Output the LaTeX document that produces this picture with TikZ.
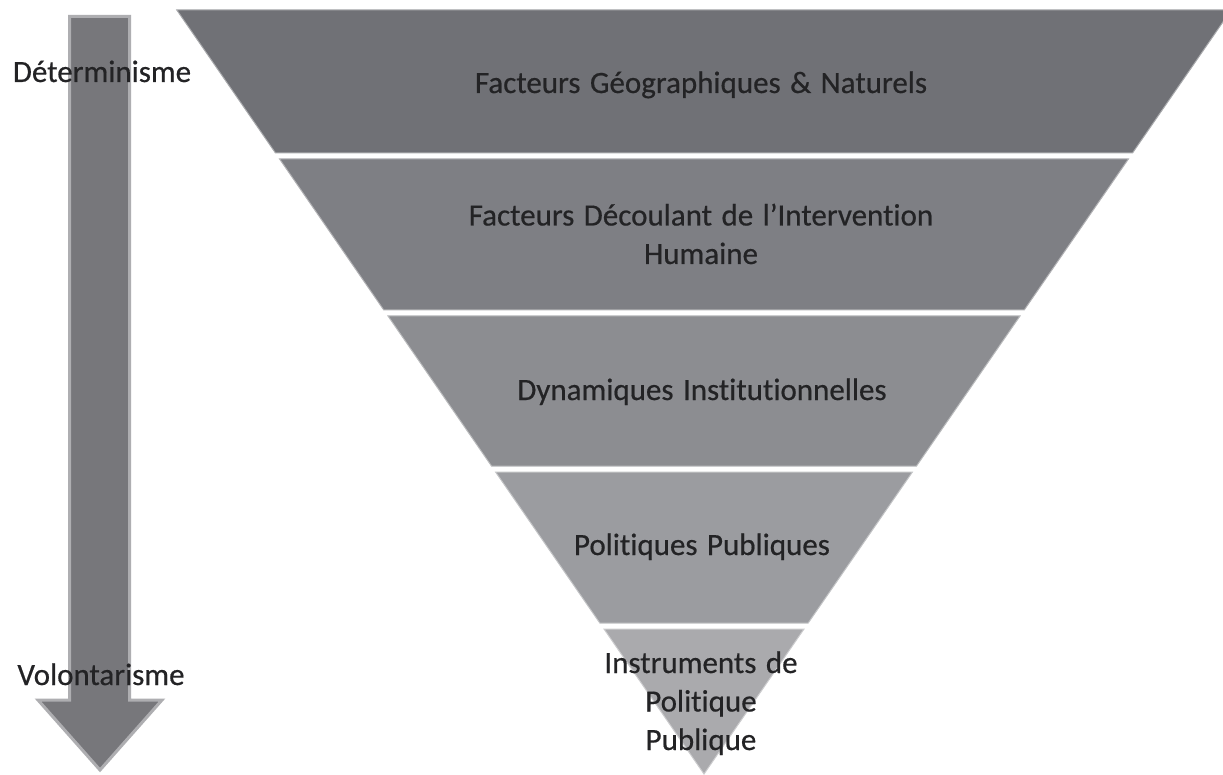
\documentclass[tikz,border=0pt]{standalone}
\usepackage{fontspec}
\setmainfont{Carlito}[Ligatures=NoCommon, WordSpace=1.35, FakeBold=0.5]
\begin{document}
\begin{tikzpicture}[x=1pt,y=-1pt,
  band/.style={draw=#1!60!white, line width=1pt, fill=#1},
  lbl/.style={font=\fontsize{31}{38.5}\selectfont, text=textgray, align=center, inner sep=0pt, anchor=base},
  arrowshape/.style={fill=arrowgray, draw=arrowedge, line width=3pt, line join=miter}]
  \definecolor{c1}{HTML}{707176}
  \definecolor{c2}{HTML}{7E7F84}
  \definecolor{c3}{HTML}{8C8D91}
  \definecolor{c4}{HTML}{9B9CA0}
  \definecolor{c5}{HTML}{AAAAAD}
  \definecolor{textgray}{HTML}{232325}
  \definecolor{arrowgray}{HTML}{77777B}
  \definecolor{arrowedge}{HTML}{AEAEB1}
  \useasboundingbox (0,0) rectangle (1223,775);
  \fill[white] (0,0) rectangle (1223,775);

  % downward arrow on the left
  \draw[arrowshape] (69.5,16.5) -- (129.5,16.5) -- (129.5,700) -- (162,700)
      -- (100,770) -- (38,700) -- (69.5,700) -- cycle;

  % inverted triangle in five bands, apex at (704,774)
  \begin{scope}
    \clip (0,0) rectangle (1223,775);
    \draw[band=c1] (176.8,10) -- (1231.2,10) -- (1132.5,153) -- (275.5,153) -- cycle;
    \draw[band=c2] (279.6,159) -- (1128.4,159) -- (1024.2,310) -- (383.8,310) -- cycle;
    \draw[band=c3] (388,316) -- (1020,316) -- (916.5,466) -- (491.5,466) -- cycle;
    \draw[band=c4] (495.6,472) -- (912.4,472) -- (808.2,623) -- (599.8,623) -- cycle;
    \draw[band=c5] (604,629) -- (804,629) -- (704,774) -- cycle;
  \end{scope}

  % band labels (multi-line labels sit on the baseline of their last line)
  \node[lbl] (geo) at (701,93) {Facteurs Géographiques \& Naturels};
  \node[lbl] (hum) at (701,264) {Facteurs Découlant de l’Intervention\\Humaine};
  \node[lbl] (inst) at (702,400) {Dynamiques Institutionnelles};
  \node[lbl] (pol) at (702,555) {Politiques Publiques};
  \node[lbl] (instr) at (701,750) {Instruments de\\Politique\\Publique};

  % axis labels
  \node[lbl] (det) at (102,82) {Déterminisme};
  \node[lbl] (vol) at (101,685) {Volontarisme};
\end{tikzpicture}
\end{document}
